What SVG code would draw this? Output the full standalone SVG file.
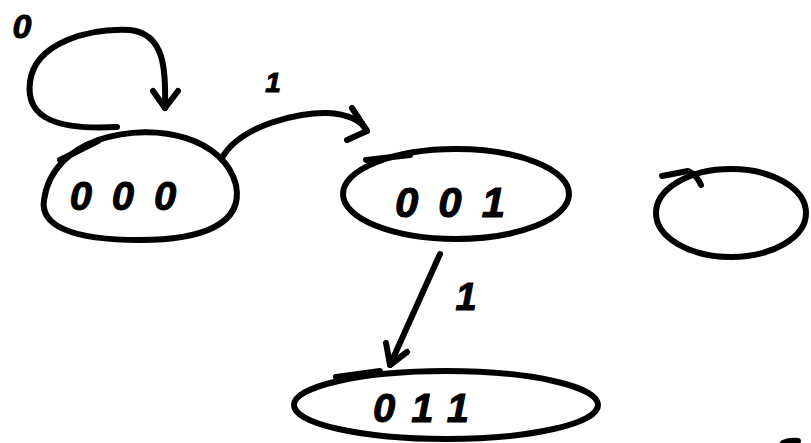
<svg xmlns="http://www.w3.org/2000/svg" width="811" height="443" viewBox="0 0 811 443">
<style>
.s{fill:none;stroke:#000;stroke-width:6;stroke-linecap:round;stroke-linejoin:round}
.t{font-family:"Liberation Sans",Arial,sans-serif;font-style:italic;font-weight:bold;fill:#000;stroke:#000;stroke-width:1;text-anchor:middle}
</style>
<rect width="811" height="443" fill="#fff"/>
<g id="node-000">
<path class="s" d="M98,140 C160,120 225,140 236,185 C244,225 200,240 140,240 C70,240 40,225 44,200 C48,170 70,150 98,140 Z"/>
<path class="s" d="M60,160 L98,141"/>
<text class="t" x="133" y="210" font-size="40" letter-spacing="20">000</text>
</g>
<g id="node-001">
<ellipse class="s" cx="456" cy="194" rx="113" ry="45"/>
<path class="s" d="M366,160 L410,155"/>
<text class="t" x="460" y="217" font-size="42" letter-spacing="20">001</text>
</g>
<g id="node-011">
<ellipse class="s" cx="446" cy="405" rx="152" ry="34"/>
<path class="s" d="M336,377 L380,371"/>
<text class="t" x="429" y="422" font-size="40" letter-spacing="16">011</text>
</g>
<g id="node-empty">
<ellipse class="s" cx="731" cy="213" rx="75" ry="44"/>
<path class="s" d="M662,176 L688,171 Q697,175 701,185"/>
</g>
<g id="node-corner">
<path class="s" d="M783,443 Q790,440 798,441"/>
</g>
<g id="connectors">
<path class="s" d="M117,127 C60,130 25,120 30,82 C35,42 90,28 130,30 C165,34 166,70 165,108"/>
<path class="s" d="M153,91 L165,108 L178,91"/>
<path class="s" d="M222,158 C240,125 300,112 327,113 C350,114 362,122 367,131"/>
<path class="s" d="M352,108 L367,131 L347,140"/>
<path class="s" d="M440,254 L390,365"/>
<path class="s" d="M386,343 L390,365 L407,352"/>
</g>
<g id="labels">
<text class="t" x="22" y="38" font-size="34">0</text>
<text class="t" x="273" y="92" font-size="28">1</text>
<text class="t" x="466" y="310" font-size="38">1</text>
</g>
</svg>
